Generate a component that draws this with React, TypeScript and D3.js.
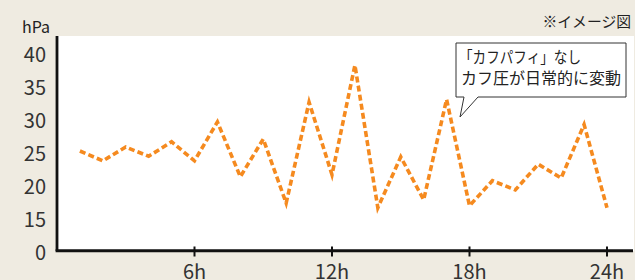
import * as d3 from 'd3'

const HOURS = d3.range(1, 25)
const PRESSURE = [
  25.2, 23.7, 25.8, 24.4, 26.6, 23.7, 29.6, 21.3, 27.0, 17.3, 32.6, 21.6,
  38.2, 16.6, 24.3, 17.8, 33.0, 16.9, 20.7, 19.3, 23.2, 21.1, 29.2, 16.6,
]
const Y_TICKS = [10, 15, 20, 25, 30, 35, 40]
const Y_TICK_LABELS = ['0', '15', '20', '25', '30', '35', '40']
const X_TICKS = [6, 12, 18, 24]
const X_TICK_LABELS = ['6h', '12h', '18h', '24h']
const NOTE_LINE1 = '「カフパフィ」なし'
const NOTE_LINE2 = 'カフ圧が日常的に変動'

const W = 635, H = 280
const FONT = '"Noto Sans CJK JP", "Noto Sans", sans-serif'

export default function App() {
  const left = 57, right = 634, top = 36, bottom = 251

  const x = d3.scaleLinear().domain([0, 24]).range([left, 607])
  // broken axis: the "0" label sits where 10 would be
  const y = d3.scaleLinear().domain([15, 40]).range([218.3, 53.3])

  const line = d3.line<number>()
    .x((_, i) => x(HOURS[i]))
    .y(d => y(d))

  // callout box with pointer
  const bx0 = 456, by0 = 43, bx1 = 626, by1 = 97
  const callout = `M${bx0},${by0} H${bx1} V${by1} H478 L460,117 L464,${by1} H${bx0} Z`

  return (
    <svg width={W} height={H} style={{ position: 'absolute', left: 0, top: 0, background: '#efebe1' }}
      fontFamily={FONT}>
      <rect x={left} y={top} width={right - left} height={bottom - top} fill="#fff" />

      <path d={line(PRESSURE) ?? ''} fill="none" stroke="#f58a1f" strokeWidth={3.6}
        strokeDasharray="6 3.2" strokeLinejoin="miter" />

      {/* axes */}
      <line x1={left} x2={left} y1={top} y2={bottom} stroke="#111" strokeWidth={2.8} />
      <line x1={left - 1.4} x2={633} y1={250.7} y2={250.7} stroke="#111" strokeWidth={3} />
      {X_TICKS.map(t => (
        <line key={t} x1={x(t)} x2={x(t)} y1={246.5} y2={256.5} stroke="#111" strokeWidth={2} />
      ))}

      {Y_TICKS.map((t, i) => (
        <text key={t} x={46} y={t === 10 ? 251 : y(t)} textAnchor="end" dominantBaseline="central"
          fontSize={20} fill="#333">{Y_TICK_LABELS[i]}</text>
      ))}
      {X_TICKS.map((t, i) => (
        <text key={t} x={x(t)} y={279} textAnchor="middle" fontSize={20} fill="#333">{X_TICK_LABELS[i]}</text>
      ))}

      <text x={22} y={33} fontSize={16} fill="#222">hPa</text>
      <text x={631} y={27} textAnchor="end" fontSize={14.8} fill="#222">※イメージ図</text>

      <path d={callout} fill="#fff" stroke="#333" strokeWidth={1} />
      <text x={459} y={63} fontSize={16} fill="#222" textLength={122} lengthAdjust="spacingAndGlyphs">
        {NOTE_LINE1}
      </text>
      <text x={461} y={83.5} fontSize={16} fill="#222">{NOTE_LINE2}</text>
    </svg>
  )
}
